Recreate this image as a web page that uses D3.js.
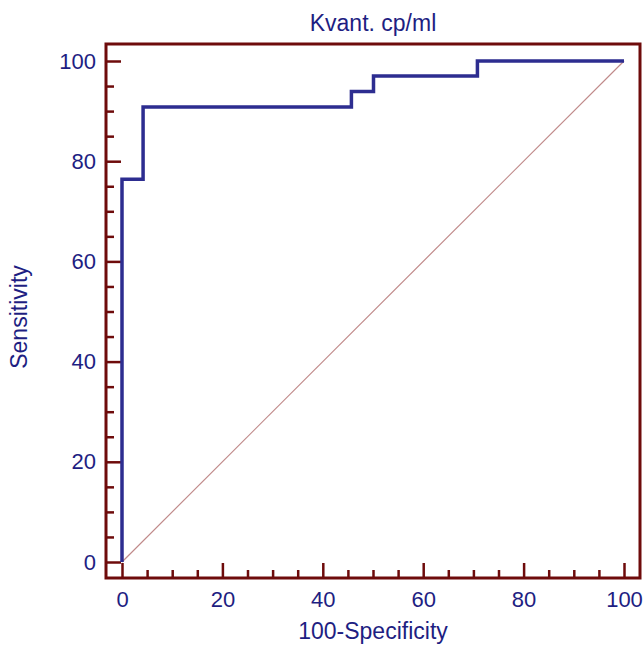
<!DOCTYPE html>
<html>
<head>
<meta charset="utf-8">
<script src="https://cdn.jsdelivr.net/npm/d3@7"></script>
<style>
  body { margin: 0; background: #fff; }
  text { font-family: "Liberation Sans", Arial, sans-serif; fill: #1e1e82; }
</style>
</head>
<body>
<div class="canvas"></div>
<script>
// ROC curve points (100-Specificity, Sensitivity)
const fpr  = [0, 0,    4.2,  4.2,  45.7, 45.7, 50.1, 50.1, 70.8, 70.8, 100]
const sens = [0, 76.4, 76.4, 90.8, 90.8, 93.9, 93.9, 97.0, 97.0, 100,  100]
const majorTicks = [0, 20, 40, 60, 80, 100]
const minorTicks = [5, 10, 15, 25, 30, 35, 45, 50, 55, 65, 70, 75, 85, 90, 95]

const frame = {left: 106, top: 44, right: 640, bottom: 578}
const dark = '#6e0b0b'

const svg = d3.select('.canvas')
    .append('svg')
    .attr('width', 644)
    .attr('height', 645)

const x = d3.scaleLinear().domain([0, 100]).range([122, 624])
const y = d3.scaleLinear().domain([0, 100]).range([562, 61])

// x axis, ticks point inward
const xMinor = svg.append('g')
    .attr('transform', `translate(0, ${frame.bottom})`)
    .call(d3.axisBottom(x).tickValues(minorTicks).tickSize(-8).tickFormat(''))
const xMajor = svg.append('g')
    .attr('transform', `translate(0, ${frame.bottom})`)
    .call(d3.axisBottom(x).tickValues(majorTicks).tickSize(-15).tickPadding(13))

const yMinor = svg.append('g')
    .attr('transform', `translate(${frame.left}, 0)`)
    .call(d3.axisLeft(y).tickValues(minorTicks).tickSize(-8).tickFormat(''))
const yMajor = svg.append('g')
    .attr('transform', `translate(${frame.left}, 0)`)
    .call(d3.axisLeft(y).tickValues(majorTicks).tickSize(-15).tickPadding(10))

;[xMinor, xMajor, yMinor, yMajor].forEach(g => {
    g.select('.domain').remove()
    g.selectAll('line').attr('stroke', dark).attr('stroke-width', 2.5)
    g.selectAll('text')
        .style('font-family', '"Liberation Sans", Arial, sans-serif')
        .style('font-size', '22px')
        .attr('fill', '#1e1e82')
})

// diagonal reference line
svg.append('line')
    .attr('x1', x(0)).attr('y1', y(0))
    .attr('x2', x(100)).attr('y2', y(100))
    .attr('stroke', '#c08a8a')
    .attr('stroke-width', 1.2)

// ROC line
const line = d3.line()
    .x((d, i) => x(fpr[i]))
    .y(d => y(d))

svg.append('path')
    .datum(sens)
    .attr('d', line)
    .attr('fill', 'none')
    .attr('stroke', '#2d2d90')
    .attr('stroke-width', 3.5)

// frame
svg.append('rect')
    .attr('x', frame.left).attr('y', frame.top)
    .attr('width', frame.right - frame.left)
    .attr('height', frame.bottom - frame.top)
    .attr('fill', 'none')
    .attr('stroke', dark)
    .attr('stroke-width', 3)

// titles
svg.append('text')
    .attr('x', 373).attr('y', 31)
    .attr('text-anchor', 'middle')
    .style('font-size', '23px')
    .text('Kvant. cp/ml')

svg.append('text')
    .attr('x', 373).attr('y', 639)
    .attr('text-anchor', 'middle')
    .style('font-size', '23px')
    .text('100-Specificity')

svg.append('text')
    .attr('transform', 'translate(27, 317) rotate(-90)')
    .attr('text-anchor', 'middle')
    .style('font-size', '23px')
    .text('Sensitivity')
</script>
</body>
</html>
